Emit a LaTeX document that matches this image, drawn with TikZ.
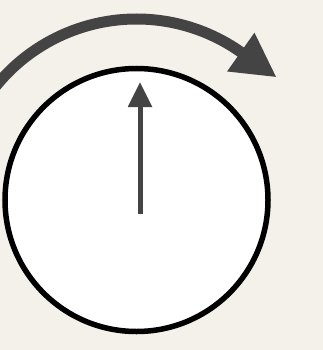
\documentclass[tikz,border=0pt]{standalone}
\usetikzlibrary{arrows.meta}
\definecolor{paper}{RGB}{244,241,234}
\definecolor{ink}{RGB}{68,68,68}
\tikzset{
  dial/.style={draw=black, fill=white, line width=5.5pt},
  hand/.style={draw=ink, line width=5pt, -{Triangle[length=25pt,width=23pt]}},
  turn/.style={draw=ink, line width=11pt, -{Triangle[length=44pt,width=44pt]}},
}
\begin{document}
\begin{tikzpicture}[x=1pt,y=-1pt]
  \fill[paper] (0,0) rectangle (323,350);
  \useasboundingbox (0,0) rectangle (323,350);
  \clip (0,0) rectangle (323,350);
  \coordinate (c) at (136.5,200);
  \coordinate (handbase) at (140,214);
  \coordinate (handtip) at (140,82);
  \coordinate (arcstart) at ([shift={(c)}]-150:181);
  \path[dial] (c) circle[radius=131.5];
  \draw[hand] (handbase) -- (handtip);
  \draw[turn] (arcstart) arc[start angle=-150, end angle=-54.8, radius=181] coordinate (arcend) -- ++(35.9,25.3) coordinate (arctip);
\end{tikzpicture}
\end{document}
